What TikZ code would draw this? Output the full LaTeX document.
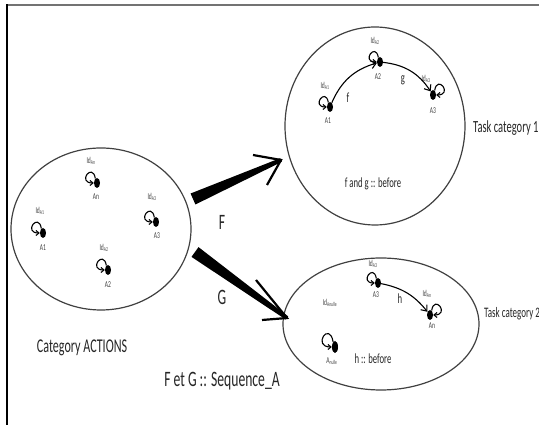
\documentclass[tikz,border=0pt]{standalone}
\usepackage{fontspec}
\newfontfamily\cf{Carlito}[FakeStretch=0.62]
\usetikzlibrary{arrows.meta,calc,shapes.geometric}
\begin{document}
\begin{tikzpicture}[x=1pt,y=1pt,
  dot/.style={fill=black, ellipse, minimum width=6pt, minimum height=10pt, inner sep=0pt},
  lbl/.style={font=\cf\fontsize{9}{9}\selectfont, inner sep=0pt, text=black!75},
  catell/.style={draw=black!75, line width=1.2pt, ellipse, inner sep=0pt},
  selfloop/.style={-{Straight Barb[length=3pt,width=5pt]}, line width=1.1pt},
  morph/.style={-{Straight Barb[length=5pt,width=8pt]}, line width=1.1pt},
  big/.style={font=\cf\fontsize{#1}{#1}\selectfont, inner sep=0pt, text=black!85},
  heavy/.style={fill=black},
  barb/.style={line width=2.2pt, line join=miter, line cap=butt}
]
\useasboundingbox (0,0) rectangle (539,425);
% frame
\draw[black!55, line width=1.4pt] (7,420) -- (539,420);
\draw[black, line width=1.4pt] (7,420.7) -- (7,0);

% ellipses
\node[catell, minimum width=180pt, minimum height=162pt] (L) at (101,196) {};
\node[catell, minimum width=180pt, minimum height=198pt] (T) at (375,299) {};
\node[catell, minimum width=196pt, minimum height=132pt] (B) at (381,101) {};

% left category
\node[dot] (la1) at (43,192) {};
\node[dot] (la2) at (108,155) {};
\node[dot] (la3) at (156,203) {};
\node[dot] (lan) at (97,242) {};
\foreach \n in {la1,la2,la3,lan}
  \draw[selfloop] (\n.110) .. controls +(100:17pt) and +(180:17pt) .. (\n.west);
\node[lbl] (la1t) at (43,177) {A1};
\node[lbl] (la2t) at (108,140) {A2};
\node[lbl] (la3t) at (157,189) {A3};
\node[lbl] (lant) at (96,228) {An};
\node[lbl] (la1i) at (40,214) {Id\textsubscript{A1}};
\node[lbl] (la2i) at (104,177) {Id\textsubscript{A2}};
\node[lbl] (la3i) at (152,228) {Id\textsubscript{A3}};
\node[lbl] (lani) at (91,264) {Id\textsubscript{An}};

% top category
\node[dot] (ta1) at (330,318) {};
\node[dot] (ta2) at (380,363) {};
\node[dot] (ta3) at (433,330) {};
\draw[selfloop] (ta1.110) .. controls +(100:16pt) and +(180:16pt) .. (ta1.west);
\draw[selfloop] (ta2.110) .. controls +(100:16pt) and +(180:16pt) .. (ta2.west);
\draw[selfloop] (ta3.70) .. controls +(80:17pt) and +(0:17pt) .. (ta3.east);
\node[lbl] (ta1t) at (328,304) {A1};
\node[lbl] (ta2t) at (378,348) {A2};
\node[lbl] (ta3t) at (433,314) {A3};
\node[lbl] (ta1i) at (325,339) {Id\textsubscript{A1}};
\node[lbl] (ta2i) at (375,384) {Id\textsubscript{A2}};
\node[lbl] (ta3i) at (426,346) {Id\textsubscript{A3}};
\draw[morph] (ta1) to[bend left=25] (ta2);
\draw[morph] (ta2) to[bend left=25] (ta3);
\node[big=14] (fl) at (348,327) {f};
\node[big=14] (gl) at (403,345) {g};
\node[big=14] (tb) at (373,241) {f and g :: before};
\node[big=17, anchor=west] (tc1) at (473,297) {Task category 1};

% bottom category
\node[dot] (ba3) at (378,142) {};
\node[dot] (ban) at (430,110) {};
\node[dot, minimum height=12pt] (bnul) at (335,78) {};
\draw[selfloop] (ba3.110) .. controls +(100:16pt) and +(180:16pt) .. (ba3.west);
\draw[selfloop] (ban.70) .. controls +(80:17pt) and +(0:17pt) .. (ban.east);
\draw[selfloop] (bnul.110) .. controls +(100:22pt) and +(180:20pt) .. (bnul.west);
\node[lbl] (ba3t) at (376,130) {A3};
\node[lbl] (bant) at (432,99) {An};
\node[lbl] (bnult) at (332,64) {A\textsubscript{nulle}};
\node[lbl] (ba3i) at (373,161) {Id\textsubscript{A3}};
\node[lbl] (bani) at (427,131) {Id\textsubscript{An}};
\node[lbl] (bnuli) at (330,122) {Id\textsubscript{Anulle}};
\draw[morph] (ba3) to[bend left=20] (ban);
\node[big=14] (hl) at (400,126) {h};
\node[big=14] (hb) at (373,66) {h :: before};
\node[big=14.5, anchor=west] (tc2) at (484,111) {Task category 2};

% functor arrows
\coordinate (Ft) at (193,226);
\coordinate (Fh) at (281,265);
\coordinate (Fu) at (253,270);
\coordinate (Fd) at (267,240);
\fill[heavy] ($(Ft)!6pt!90:(Fh)$) -- ($(Fh)!2pt!-90:(Ft)$) -- ($(Fh)!2pt!90:(Ft)$) -- ($(Ft)!6pt!-90:(Fh)$) -- cycle;
\draw[barb] (Fu) -- (Fh) -- (Fd);
\coordinate (Gt) at (195,173);
\coordinate (Gh) at (287,107);
\coordinate (Gu) at (256,145);
\coordinate (Gd) at (262,105);
\fill[heavy] ($(Gt)!6pt!90:(Gh)$) -- ($(Gh)!2pt!-90:(Gt)$) -- ($(Gh)!2pt!90:(Gt)$) -- ($(Gt)!6pt!-90:(Gh)$) -- cycle;
\draw[barb] (Gu) -- (Gh) -- (Gd);
\node[big=22] (Fl) at (222,203) {F};
\node[big=22] (Gl) at (222,128) {G};

\node[big=19.5] (ca) at (82,77) {Category ACTIONS};
\node[big=22] (fg) at (222,44) {F et G :: Sequence\_A};
\end{tikzpicture}
\end{document}
